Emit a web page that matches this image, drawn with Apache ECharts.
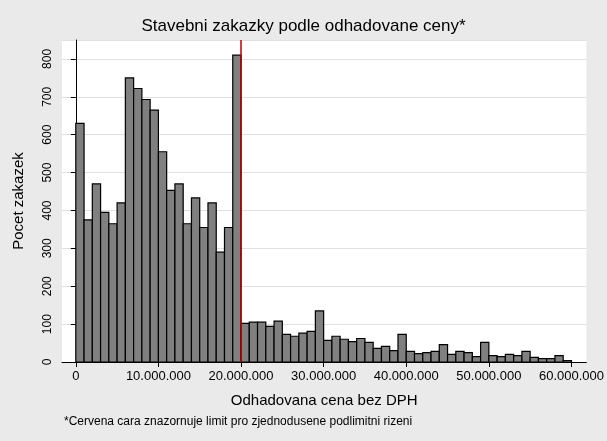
<!DOCTYPE html>
<html><head><meta charset="utf-8">
<script src="https://cdn.jsdelivr.net/npm/echarts@6/dist/echarts.min.js"></script>
<style>html,body{margin:0;padding:0;background:#eaeaea}#c{width:607px;height:441px}</style>
</head><body><div id="c"></div>
<script>
const binStarts = [];
for (let i = 0; i < 60; i++) binStarts.push(i * 1000000);
const counts = [630,375,470,395,365,420,750,722,693,665,555,453,470,365,433,355,420,290,355,810,
  102,105,105,94,108,73,68,76,81,135,57,68,60,54,62,52,36,41,30,73,
  28,22,25,28,46,20,28,25,14,52,17,14,20,17,28,12,9,9,17,4];
const xTicks = [0, 10000000, 20000000, 30000000, 40000000, 50000000, 60000000];
const binWidth = 1000000;
const limitValue = 20000000;
const data = binStarts.map((s, i) => [s, counts[i]]);
const fmt = v => String(Math.round(v)).replace(/\B(?=(\d{3})+(?!\d))/g, '.');
const chart = echarts.init(document.getElementById('c'));
chart.setOption({
  backgroundColor: '#eaeaea',
  animation: false,
  title: {text: 'Stavebni zakazky podle odhadovane ceny*', left: 'center', top: 13,
    textStyle: {fontFamily: 'Liberation Sans', fontSize: 17, fontWeight: 'normal', color: '#000'}},
  graphic: [{type: 'text', left: 64, top: 416, style: {text: '*Cervena cara znazornuje limit pro zjednodusene podlimitni rizeni',
    font: '12px "Liberation Sans"', fill: '#000'}}],
  grid: {left: 62, right: 12, top: 40, bottom: 79, show: true, backgroundColor: '#fff', borderWidth: 0},
  xAxis: {type: 'value', min: -1670000, max: 61800000,
    name: 'Odhadovana cena bez DPH', nameLocation: 'middle', nameGap: 31,
    nameTextStyle: {fontFamily: 'Liberation Sans', fontSize: 15, color: '#000'},
    axisLine: {show: true, lineStyle: {color: '#000'}},
    axisTick: {show: true, lineStyle: {color: '#000'}, length: 5, customValues: xTicks},
    axisLabel: {color: '#000', fontFamily: 'Liberation Sans', fontSize: 13, customValues: xTicks, formatter: v => fmt(v)},
    splitLine: {show: false}},
  yAxis: {type: 'value', min: 0, max: 850, interval: 100,
    name: 'Pocet zakazek', nameLocation: 'middle', nameGap: 36,
    nameTextStyle: {fontFamily: 'Liberation Sans', fontSize: 15, color: '#000'},
    axisLine: {show: true, lineStyle: {color: '#000'}},
    axisTick: {show: true, lineStyle: {color: '#000'}, length: 5},
    axisLabel: {color: '#000', fontFamily: 'Liberation Sans', fontSize: 12, rotate: 90, margin: 8, showMaxLabel: false},
    splitLine: {show: true, lineStyle: {color: '#e0e0e0'}}},
  series: [{
    type: 'custom', data: data,
    renderItem: (params, api) => {
      const p0 = api.coord([api.value(0), api.value(1)]);
      const p1 = api.coord([api.value(0) + binWidth, 0]);
      return {type: 'rect', shape: {x: p0[0], y: p0[1], width: p1[0] - p0[0], height: p1[1] - p0[1]},
        style: {fill: '#808080', stroke: '#000', lineWidth: 1.2}};
    },
    encode: {x: 0, y: 1},
    markLine: {silent: true, symbol: 'none', label: {show: false},
      lineStyle: {color: '#c00000', type: 'solid', width: 1.5}, data: [{xAxis: limitValue}]}
  }]
});
</script></body></html>
